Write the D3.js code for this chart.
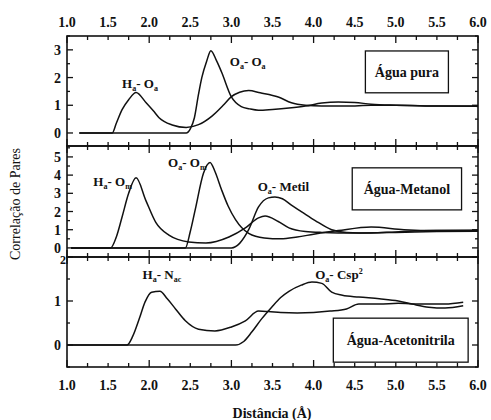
<!DOCTYPE html>
<html>
<head>
<meta charset="utf-8">
<script src="https://cdn.jsdelivr.net/npm/d3@7"></script>
<style>
  body { margin: 0; background: #fff; }
  text { font-family: "Liberation Serif", "Times New Roman", serif; fill: #111; }
</style>
</head>
<body>
<div id="chart"></div>
<script>
// x axis (distance, Angstrom)
const distTicks = [1.0, 1.5, 2.0, 2.5, 3.0, 3.5, 4.0, 4.5, 5.0, 5.5, 6.0];

// panel 1 : agua pura
const puraTicks = [0, 1, 2, 3];
const puraHOx = [1.15, 1.55, 1.6, 1.67, 1.75, 1.84, 1.96, 2.05, 2.12, 2.28, 2.45, 2.6, 2.76, 2.9, 3.0, 3.1, 3.21, 3.35, 3.57, 3.73, 3.9, 4.1, 4.4, 4.7, 5.0, 5.5, 6.0];
const puraHOy = [0, 0, 0.35, 0.84, 1.2, 1.46, 1.1, 0.8, 0.55, 0.29, 0.2, 0.3, 0.6, 1.0, 1.31, 1.47, 1.53, 1.45, 1.3, 1.09, 1.0, 0.97, 0.97, 1.0, 1.0, 0.97, 0.96];
const puraOOx = [1.15, 2.45, 2.5, 2.55, 2.6, 2.64, 2.7, 2.75, 2.82, 2.88, 3.0, 3.12, 3.22, 3.33, 3.5, 3.7, 3.9, 4.1, 4.3, 4.5, 4.7, 5.0, 5.5, 6.0];
const puraOOy = [0, 0, 0.15, 0.55, 1.4, 2.0, 2.6, 2.97, 2.6, 2.2, 1.3, 0.95, 0.87, 0.82, 0.85, 0.9, 0.97, 1.08, 1.12, 1.1, 1.04, 1.0, 0.97, 0.97];

// panel 2 : agua-metanol
const metTicks = [0, 1, 2, 3, 4, 5];
const metHOx = [1.05, 1.53, 1.6, 1.67, 1.75, 1.84, 1.96, 2.08, 2.24, 2.48, 2.69, 2.97, 3.17, 3.33, 3.41, 3.57, 3.7, 3.9, 4.1, 4.5, 5.0, 5.5, 6.0];
const metHOy = [0, 0, 0.6, 1.7, 3.0, 3.85, 2.6, 1.4, 0.7, 0.33, 0.27, 0.6, 1.1, 1.65, 1.75, 1.45, 1.1, 0.9, 0.85, 0.82, 0.85, 0.9, 0.92];
const metOOx = [1.05, 2.44, 2.5, 2.56, 2.66, 2.74, 2.8, 2.88, 2.96, 3.05, 3.21, 3.4, 3.6, 3.8, 4.0, 4.3, 4.7, 5.1, 5.5, 6.0];
const metOOy = [0, 0, 0.9, 2.1, 4.1, 4.7, 4.2, 3.2, 2.3, 1.55, 0.8, 0.55, 0.5, 0.6, 0.75, 0.95, 1.15, 1.0, 0.95, 0.97];
const metMetx = [1.05, 3.0, 3.1, 3.21, 3.33, 3.45, 3.53, 3.62, 3.73, 3.85, 4.02, 4.22, 4.4, 4.7, 5.0, 5.5, 6.0];
const metMety = [0, 0, 0.25, 1.0, 2.25, 2.75, 2.8, 2.7, 2.35, 2.0, 1.5, 1.0, 0.85, 0.82, 0.88, 0.95, 0.95];

// panel 3 : agua-acetonitrila
const aceTicks = [0, 1, 2];
const aceHNx = [1.0, 1.73, 1.8, 1.88, 1.95, 2.03, 2.13, 2.22, 2.32, 2.44, 2.6, 2.8, 3.0, 3.17, 3.33, 3.45, 3.6, 3.8, 4.0, 4.2, 4.4, 4.55, 4.8, 5.03, 5.3, 5.6, 5.82];
const aceHNy = [0, 0, 0.2, 0.6, 0.98, 1.2, 1.22, 1.05, 0.82, 0.55, 0.36, 0.32, 0.41, 0.55, 0.77, 0.76, 0.74, 0.73, 0.74, 0.77, 0.82, 0.93, 0.93, 0.95, 0.93, 0.93, 0.97];
const aceCx = [1.0, 3.05, 3.15, 3.25, 3.37, 3.49, 3.6, 3.7, 3.85, 3.98, 4.1, 4.22, 4.35, 4.55, 4.8, 5.03, 5.2, 5.4, 5.6, 5.82];
const aceCy = [0, 0, 0.08, 0.3, 0.6, 0.86, 1.08, 1.22, 1.36, 1.43, 1.4, 1.2, 1.13, 1.09, 1.05, 1.0, 0.93, 0.86, 0.84, 0.89];

(function() {
  const width = 491;
  const height = 420;
  const left = 67, right = 478;

  const svg = d3.select('#chart')
    .append('svg')
    .attr('width', width)
    .attr('height', height);

  const x = d3.scaleLinear().domain([1, 6]).range([left, right]);

  const zip = (xs, ys) => xs.map((v, i) => [v, ys[i]]);

  // label pieces: [text, 0 normal / 1 sub / 2 sup]
  const panels = [
    {
      top: 36, bottom: 146, domain: [-0.47, 3.5], ticks: puraTicks, minor: 0.5,
      series: [zip(puraHOx, puraHOy), zip(puraOOx, puraOOy)],
      labels: [
        { at: [1.67, 1.63], parts: [['H', 0], ['a', 1], ['- O', 0], ['a', 1]] },
        { at: [2.98, 2.42], parts: [['O', 0], ['a', 1], ['- O', 0], ['a', 1]] }
      ],
      box: { x0: 4.63, x1: 5.64, y0: 2.96, y1: 1.45, text: 'Água pura' }
    },
    {
      top: 146, bottom: 257, domain: [-0.5, 5.6], ticks: metTicks, minor: 0.5,
      series: [zip(metHOx, metHOy), zip(metOOx, metOOy), zip(metMetx, metMety)],
      labels: [
        { at: [1.32, 3.4], parts: [['H', 0], ['a', 1], ['- O', 0], ['m', 1]] },
        { at: [2.23, 4.45], parts: [['O', 0], ['a', 1], ['- O', 0], ['m', 1]] },
        { at: [3.32, 3.13], parts: [['O', 0], ['a', 1], ['- Metil', 0]] }
      ],
      box: { x0: 4.47, x1: 5.8, y0: 4.4, y1: 2.09, text: 'Água-Metanol' }
    },
    {
      top: 257, bottom: 367, domain: [-0.5, 2], ticks: aceTicks, minor: 0.5,
      series: [zip(aceHNx, aceHNy), zip(aceCx, aceCy)],
      labels: [
        { at: [1.92, 1.5], parts: [['H', 0], ['a', 1], ['- N', 0], ['ac', 1]] },
        { at: [4.02, 1.5], parts: [['O', 0], ['a', 1], ['- Csp', 0], ['2', 2]] }
      ],
      box: { x0: 4.24, x1: 5.88, y0: 0.61, y1: -0.39, text: 'Água-Acetonitrila' }
    }
  ];

  const xMinor = d3.range(1, 6.001, 0.25);

  panels.forEach(function(p, pi) {
    const y = d3.scaleLinear().domain(p.domain).range([p.bottom, p.top]);
    const g = svg.append('g');

    // curves
    const line = d3.line()
      .x(d => x(d[0]))
      .y(d => y(d[1]))
      .curve(d3.curveMonotoneX);
    g.selectAll('path.curve')
      .data(p.series)
      .enter().append('path')
      .attr('class', 'curve')
      .attr('d', line)
      .attr('fill', 'none')
      .attr('stroke', '#111')
      .attr('stroke-width', 1.5);

    // x ticks on top and bottom edge, inward
    xMinor.forEach(function(v) {
      const big = Math.abs(v - Math.round(v)) < 1e-6;
      const len = big ? 7 : 4;
      g.append('line')
        .attr('x1', x(v)).attr('x2', x(v))
        .attr('y1', p.top).attr('y2', p.top + len)
        .attr('stroke', '#111').attr('stroke-width', 1.3);
      g.append('line')
        .attr('x1', x(v)).attr('x2', x(v))
        .attr('y1', p.bottom).attr('y2', p.bottom - len)
        .attr('stroke', '#111').attr('stroke-width', 1.3);
    });

    // y ticks left and right
    const yMinor = d3.range(Math.ceil(p.domain[0] / p.minor) * p.minor, p.domain[1] + 1e-6, p.minor);
    yMinor.forEach(function(v) {
      const big = Math.abs(v - Math.round(v)) < 1e-6;
      const len = big ? 6 : 3;
      g.append('line')
        .attr('x1', left).attr('x2', left + len)
        .attr('y1', y(v)).attr('y2', y(v))
        .attr('stroke', '#111').attr('stroke-width', 1.3);
      g.append('line')
        .attr('x1', right).attr('x2', right - len)
        .attr('y1', y(v)).attr('y2', y(v))
        .attr('stroke', '#111').attr('stroke-width', 1.3);
    });

    // the lowest panel's top label sits on the panel edge, nudge it right of the "0" above
    g.selectAll('text.ytick')
      .data(p.ticks)
      .enter().append('text')
      .attr('class', 'ytick')
      .attr('x', d => (pi === 2 && d === 2) ? left - 1 : left - 6)
      .attr('y', d => (pi === 2 && d === 2) ? y(d) + 7 : y(d) + 5)
      .attr('text-anchor', 'end')
      .style('font-size', d => (pi === 2 && d === 2) ? '12px' : '14px')
      .style('font-weight', 'bold')
      .text(d => d);

    // frame
    g.append('rect')
      .attr('x', left).attr('y', p.top)
      .attr('width', right - left).attr('height', p.bottom - p.top)
      .attr('fill', 'none')
      .attr('stroke', '#111')
      .attr('stroke-width', 1.6);

    // curve labels with subscripts
    p.labels.forEach(function(l) {
      const t = g.append('text')
        .attr('x', x(l.at[0]))
        .attr('y', y(l.at[1]))
        .style('font-size', '13px')
        .style('font-weight', 'bold');
      let shift = 0;
      l.parts.forEach(function(part) {
        const target = part[1] === 1 ? 3 : part[1] === 2 ? -5 : 0;
        t.append('tspan')
          .attr('dy', target - shift)
          .style('font-size', part[1] ? '8px' : '13px')
          .text(part[0]);
        shift = target;
      });
    });

    // legend box
    const b = p.box;
    g.append('rect')
      .attr('x', x(b.x0)).attr('y', y(b.y0))
      .attr('width', x(b.x1) - x(b.x0))
      .attr('height', y(b.y1) - y(b.y0))
      .attr('fill', '#fff')
      .attr('stroke', '#111')
      .attr('stroke-width', 1.3);
    g.append('text')
      .attr('x', (x(b.x0) + x(b.x1)) / 2)
      .attr('y', (y(b.y0) + y(b.y1)) / 2 + 5)
      .attr('text-anchor', 'middle')
      .style('font-size', '14px')
      .style('font-weight', 'bold')
      .text(b.text);
  });

  // x tick labels, top and bottom
  svg.selectAll('text.xtop')
    .data(distTicks)
    .enter().append('text')
    .attr('class', 'xtop')
    .attr('x', d => x(d))
    .attr('y', 27)
    .attr('text-anchor', 'middle')
    .style('font-size', '14px')
    .style('font-weight', 'bold')
    .text(d => d.toFixed(1));

  svg.selectAll('text.xbot')
    .data(distTicks)
    .enter().append('text')
    .attr('class', 'xbot')
    .attr('x', d => x(d))
    .attr('y', 390)
    .attr('text-anchor', 'middle')
    .style('font-size', '14px')
    .style('font-weight', 'bold')
    .text(d => d.toFixed(1));

  svg.append('text')
    .attr('x', 272)
    .attr('y', 418)
    .attr('text-anchor', 'middle')
    .style('font-size', '14px')
    .style('font-weight', 'bold')
    .text('Distância (Å)');

  svg.append('text')
    .attr('transform', 'translate(20,204) rotate(-90)')
    .attr('text-anchor', 'middle')
    .style('font-size', '14px')
    .text('Correlação de Pares');
})();
</script>
</body>
</html>
